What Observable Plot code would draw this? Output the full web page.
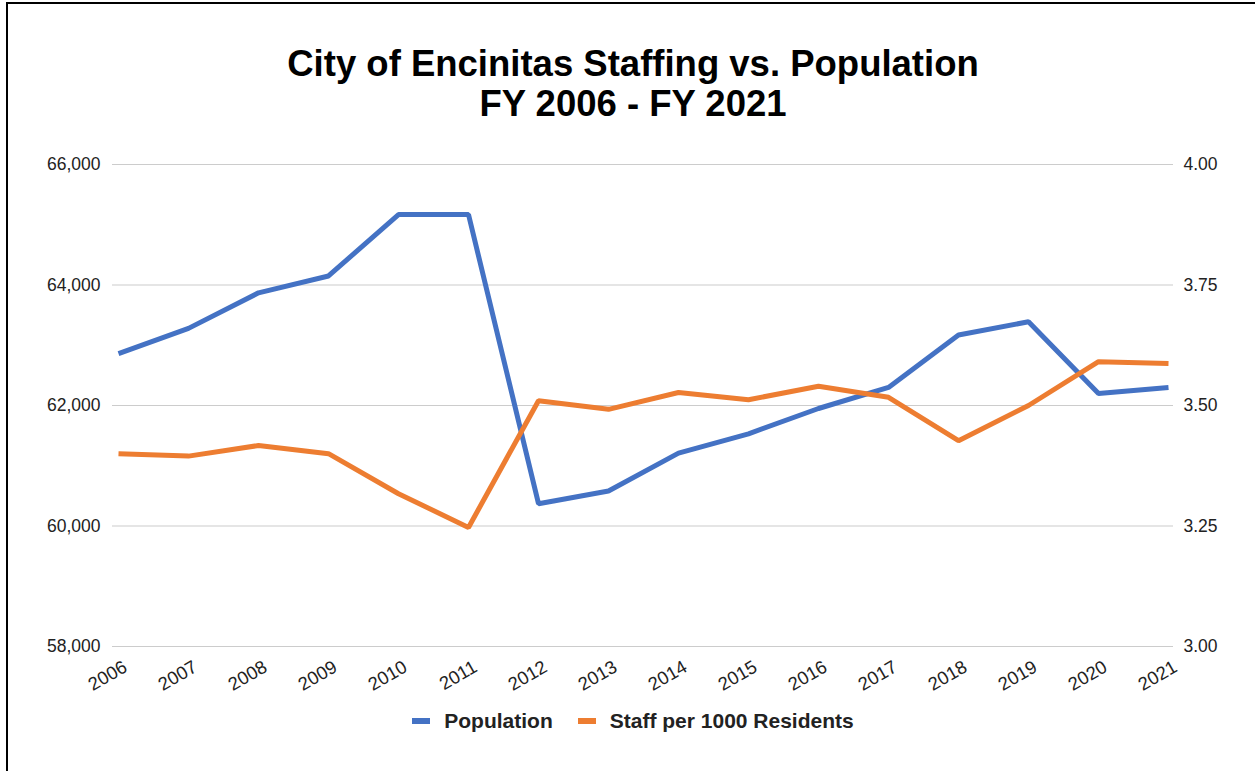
<!DOCTYPE html>
<html>
<head>
<meta charset="utf-8">
<script src="https://cdn.jsdelivr.net/npm/d3@7"></script>
<script src="https://cdn.jsdelivr.net/npm/@observablehq/plot@0.6"></script>
<style>
  html, body { margin: 0; padding: 0; background: #fff; }
  body { width: 1255px; height: 771px; position: relative; overflow: hidden; font-family: "Liberation Sans", Arial, sans-serif; }
  #frame { position: absolute; left: 6px; top: 2px; width: 1260px; height: 780px; border-top: 2px solid #000; border-left: 2px solid #000; }
  #title { position: absolute; left: 8px; width: 1250px; top: 44px; text-align: center; font-weight: bold; font-size: 36.5px; line-height: 40px; color: #000; }
  #chart { position: absolute; left: 0; top: 140px; }
  #legend { position: absolute; left: 8px; width: 1250px; top: 707px; height: 28px; display: flex; justify-content: center; align-items: center; font-weight: bold; font-size: 21px; color: #222; }
  .item { display: flex; align-items: center; margin: 0 12.5px; }
  .sw { width: 18px; height: 6px; margin-right: 14px; }
</style>
</head>
<body>
<div id="frame"></div>
<div id="title">City of Encinitas Staffing vs. Population<br>FY 2006 - FY 2021</div>
<div id="chart"></div>
<div id="legend"></div>
<script>
const years = [2006, 2007, 2008, 2009, 2010, 2011, 2012, 2013, 2014, 2015, 2016, 2017, 2018, 2019, 2020, 2021];
const population = [62860, 63280, 63870, 64150, 65170, 65170, 60370, 60580, 61210, 61530, 61950, 62300, 63170, 63390, 62200, 62300];
const staff = [3.40, 3.395, 3.417, 3.40, 3.317, 3.247, 3.51, 3.492, 3.527, 3.512, 3.54, 3.517, 3.427, 3.50, 3.591, 3.587];
const leftTicks = [58000, 60000, 62000, 64000, 66000];
const rightTicks = [3.00, 3.25, 3.50, 3.75, 4.00];
const seriesNames = ["Population", "Staff per 1000 Residents"];
const colors = ["#4472C4", "#ED7D31"];

// map right-axis values onto left-axis scale
const toLeft = v => 58000 + (v - 3) * 8000;
const fromLeft = v => (v - 58000) / 8000 + 3;

const popData = years.map((y, i) => ({year: y, value: population[i]}));
const staffData = years.map((y, i) => ({year: y, value: toLeft(staff[i])}));

const chart = Plot.plot({
  width: 1255,
  height: 560,
  marginTop: 24,
  marginBottom: 54,
  marginLeft: 112,
  marginRight: 82,
  style: {fontFamily: '"Liberation Sans", Arial, sans-serif', fontSize: "17.5px", color: "#222", background: "transparent"},
  x: {type: "point", domain: years, padding: 0},
  y: {domain: [58000, 66000]},
  marks: [
    Plot.ruleY(leftTicks, {stroke: "#cccccc", strokeWidth: 1.2}),
    Plot.axisY(leftTicks, {anchor: "left", tickSize: 0, tickPadding: 12, tickFormat: d3.format(","), label: null, fill: "#222"}),
    Plot.axisY(rightTicks.map(toLeft), {anchor: "right", tickSize: 0, tickPadding: 10, tickFormat: v => fromLeft(v).toFixed(2), label: null, fill: "#222"}),
    Plot.axisX(years, {anchor: "bottom", tickSize: 0, tickPadding: 19, tickRotate: -30, fontSize: 18.5, tickFormat: d => String(d), label: null, fill: "#222", dx: 7}),
    Plot.line(popData, {x: "year", y: "value", stroke: colors[0], strokeWidth: 5, strokeLinejoin: "miter", strokeLinecap: "butt"}),
    Plot.line(staffData, {x: "year", y: "value", stroke: colors[1], strokeWidth: 5, strokeLinejoin: "miter", strokeLinecap: "butt"})
  ]
});
document.getElementById("chart").appendChild(chart);

const legend = document.getElementById("legend");
seriesNames.forEach((name, i) => {
  const item = document.createElement("div");
  item.className = "item";
  const sw = document.createElement("span");
  sw.className = "sw";
  sw.style.background = colors[i];
  const label = document.createElement("span");
  label.textContent = name;
  item.appendChild(sw);
  item.appendChild(label);
  legend.appendChild(item);
});
</script>
</body>
</html>
